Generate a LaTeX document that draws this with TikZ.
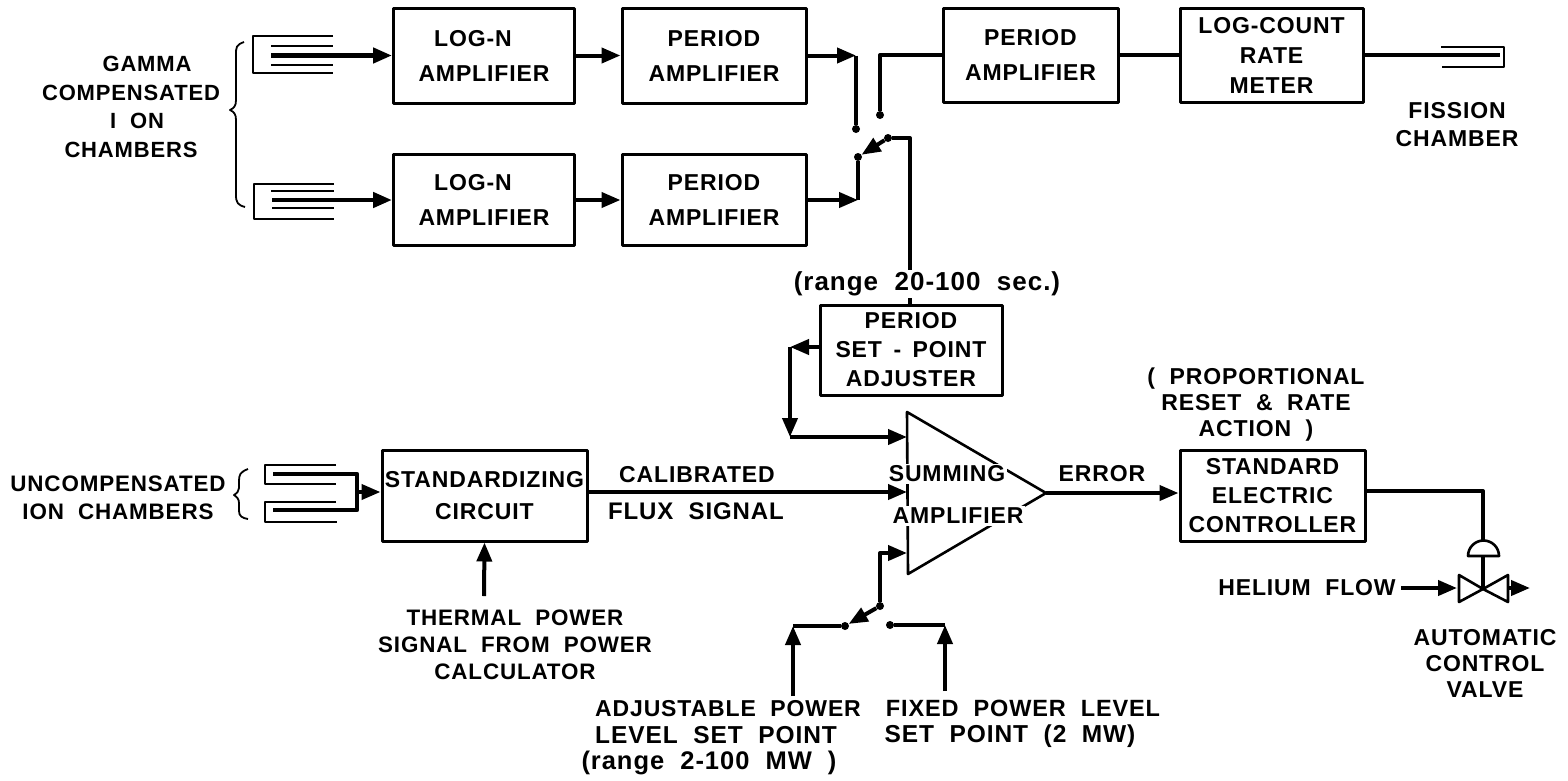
\documentclass[tikz,border=0pt]{standalone}
\usepackage{fontspec}
\setmainfont[LetterSpace=3.8,WordSpace=2]{Liberation Sans}
\usetikzlibrary{arrows.meta,calc}
\newcommand{\leadx}[2]{\fontsize{#1}{#2}\selectfont\bfseries}
\newcommand{\lead}[1]{\leadx{23}{#1}}
\tikzset{
 x=1pt,y=-1pt,
 blockbox/.style={draw,line width=3pt,line join=round,inner sep=0pt,align=center,font=\lead{35}},
 lab/.style={inner sep=0pt,align=center,font=\lead{28}},
 masklab/.style={lab,fill=white,inner sep=2pt},
 wire/.style={line width=4pt,line join=round},
 thin wire/.style={line width=2.6pt,line join=round},
 headtip/.style={-{Triangle[length=19pt,width=15pt]}},
 arrowed/.style={wire,headtip},
 dotc/.style={circle,fill=black,inner sep=0pt,minimum size=8pt},
 tri/.style={draw,line width=2.6pt,line join=round},
 fine/.style={line width=1.8pt,line join=round},
}
\begin{document}
\begin{tikzpicture}
\useasboundingbox (0,0) rectangle (1568,780);
% blocks
\node[blockbox,minimum width=181pt,minimum height=95pt] (logA) at (484,55.5) {LOG-N\hspace*{22pt}\\AMPLIFIER};
\node[blockbox,minimum width=184pt,minimum height=95pt] (perA) at (714,55.5) {PERIOD\\AMPLIFIER};
\node[blockbox,minimum width=181pt,minimum height=91pt] (logB) at (484,200) {LOG-N\hspace*{22pt}\\AMPLIFIER};
\node[blockbox,minimum width=184pt,minimum height=91pt] (perB) at (714,200) {PERIOD\\AMPLIFIER};
\node[blockbox,minimum width=175pt,minimum height=94pt] (perC) at (1030.5,55) {PERIOD\\AMPLIFIER};
\node[blockbox,minimum width=183pt,minimum height=94pt,font=\lead{30}] (rate) at (1271.5,55) {LOG-COUNT\\RATE\\METER};
\node[blockbox,minimum width=182pt,minimum height=90pt,font=\lead{29}] (setp) at (911,350) {PERIOD\\SET\hspace{-3pt} - \hspace{-3pt}POINT\\ADJUSTER};
\node[blockbox,minimum width=205pt,minimum height=91pt,font=\lead{32}] (std) at (484.5,495.5) {STANDARDIZING\\CIRCUIT};
\node[blockbox,minimum width=185pt,minimum height=91pt,font=\lead{29}] (ctrl) at (1272.5,495.5) {STANDARD\\ELECTRIC\\CONTROLLER};
% summing amplifier triangle
\coordinate (triT) at (907,412);
\coordinate (triB) at (908,574);
\coordinate (triO) at (1046,493);
\draw[tri] (triT) -- (triO) -- (triB) -- cycle;
\node[masklab] (summ) at (947,474) {SUMMING};
\node[masklab] (ampl) at (958,516) {AMPLIFIER};
% gamma chambers
\draw[thin wire] (333,36) -- (253,36) -- (253,73) -- (333,73);
\draw[thin wire] (271,46) -- (333,46) (271,65) -- (333,65);
\draw[thin wire] (334,184) -- (254,184) -- (254,219) -- (334,219);
\draw[thin wire] (271,191) -- (334,191) (272,208) -- (334,208);
\coordinate (gamA) at (271,55.5);
\coordinate (gamB) at (272,200);
\draw[arrowed,line width=4.5pt] (gamA) -- (logA.west |- gamA);
\draw[arrowed,line width=4.5pt] (gamB) -- (logB.west |- gamB);
\draw[arrowed] (logA.east) -- (perA.west);
\draw[arrowed] (logB.east) -- (perB.west);
% switch, top
\node[dotc] (c1) at (856,129) {};
\node[dotc] (c2) at (880,115) {};
\node[dotc] (c3) at (858,157) {};
\node[dotc] (c4) at (888,138) {};
\coordinate (c1up) at (856,55.5);
\coordinate (c3dn) at (858,200);
\coordinate (c2up) at (880,55);
\coordinate (c4r) at (910,138);
\draw[arrowed] (perA.east) -- (c1up);
\draw[wire] (c1up) -- (c1);
\draw[arrowed] (perB.east) -- (c3dn);
\draw[wire] (c3dn) -- (c3);
\draw[wire] (c2) -- (c2up) -- (perC.west |- c2up);
\draw[wire] (perC.east) -- (rate.west);
\draw[wire,headtip] (c4) -- (c3);
\draw[wire] (c4) -- (c4r) -- (c4r |- setp.north);
\node[masklab,font=\leadx{26}{28}] (rng) at (927,284) {(range 20-100 sec.)};
% fission chamber
\coordinate (fisE) at (1500,55);
\draw[wire] (rate.east) -- (fisE);
\draw[thin wire,line width=2pt] (1441,47) -- (1504,47) -- (1504,67) -- (1442,67);
% set point feedback
\coordinate (sL) at (820,347);
\coordinate (sC) at (790,347);
\coordinate (sD) at (790,437);
\coordinate (tA) at (907,437);
\coordinate (tB) at (907,492);
\coordinate (tC) at (907,553);
\draw[arrowed] (sL) -- (sC);
\draw[arrowed] (sC) -- (sD);
\draw[arrowed] (sD) -- (tA);
\draw[arrowed] (std.east |- tB) -- (tB);
\draw[arrowed] (triO) -- (ctrl.west |- triO);
% lower switch
\node[dotc] (s1) at (880,606) {};
\node[dotc] (s2) at (845,626) {};
\node[dotc] (s3) at (890,625) {};
\coordinate (sK) at (880,553);
\draw[arrowed] (s1) -- (sK) -- (tC);
\draw[wire,headtip] (s1) -- (s2);
\coordinate (pL) at (793,626);
\coordinate (pR) at (945,625);
\coordinate (pLs) at (793,696);
\coordinate (pRs) at (945,691);
\draw[wire] (s2) -- (pL);
\draw[wire] (s3) -- (pR);
\draw[arrowed] (pLs) -- (pL);
\draw[arrowed] (pRs) -- (pR);
% uncompensated chambers
\draw[thin wire] (336,465) -- (265,465) -- (265,484) -- (336,484);
\draw[thin wire] (336,502) -- (265,502) -- (265,522) -- (337,522);
\coordinate (uA) at (273,474);
\coordinate (uB) at (273,510);
\coordinate (uK) at (357,474);
\coordinate (uL) at (357,510);
\coordinate (uM) at (357,492);
\draw[wire,line width=4.5pt] (uA) -- (uK) -- (uL) -- (uB);
\draw[arrowed] (uM) -- (uM -| std.west);
% thermal
\coordinate (th) at (484,596);
\draw[arrowed] (th) -- (std.south);
% output and valve
\coordinate (cO) at (1483,491);
\coordinate (domeT) at (1483,541);
\coordinate (valve) at (1483,589);
\draw[wire] (ctrl.east |- cO) -- (cO) -- (domeT);
\draw[thin wire] (1468,556) arc[start angle=180,end angle=360,radius=15.5] -- cycle;
\draw[wire,line width=4.5pt] (1483,556) -- (valve);
\draw[tri] (valve) -- (1459,575) -- (1459,602) -- cycle;
\draw[tri] (valve) -- (1508,575) -- (1508,602) -- cycle;
\coordinate (hel) at (1401,588);
\coordinate (vIn) at (1457,588);
\coordinate (vOut) at (1508,588);
\coordinate (vEnd) at (1530,588);
\draw[arrowed] (hel) -- (vIn);
\draw[arrowed] (vOut) -- (vEnd);
% braces
\draw[fine] (244,42) .. controls (236,45) and (236,47) .. (236,55) -- (236,100) .. controls (236,106) and (234,108) .. (230,110) .. controls (234,112) and (236,114) .. (236,120) -- (236,195) .. controls (236,203) and (238,205) .. (245,207);
\draw[fine] (248,469) .. controls (240,472) and (239,475) .. (239,481) -- (239,488) .. controls (239,491) and (237,493) .. (234,495) .. controls (237,497) and (239,499) .. (239,503) -- (239,511) .. controls (239,516) and (242,518) .. (248,519);
% labels
\node[lab,font=\leadx{22}{28.7}] (gamlab) at (131,107) {\hspace*{32pt}GAMMA\\COMPENSATED\\\hspace*{12pt}I ON\\CHAMBERS};
\node[lab] (fislab) at (1457,124.5) {FISSION\\CHAMBER};
\node[lab,font=\leadx{22.4}{28}] (unclab) at (118,498) {UNCOMPENSATED\\ION CHAMBERS};
\node[lab] (callab) at (697,475) {CALIBRATED};
\node[lab,font=\leadx{24}{28}] (fluxlab) at (696,511) {FLUX SIGNAL};
\node[lab] (errlab) at (1102,474) {ERROR};
\node[lab,font=\lead{26}] (proplab) at (1256,405) {( PROPORTIONAL\\RESET \& RATE\\ACTION )};
\node[lab,font=\leadx{22.4}{27}] (thermlab) at (515,645) {THERMAL POWER\\SIGNAL FROM POWER\\CALCULATOR};
\node[lab] (adjlab) at (728,709) {ADJUSTABLE POWER};
\node[lab,font=\leadx{24.5}{28}] (levlab) at (716,735) {LEVEL SET POINT};
\node[lab,font=\leadx{25.5}{28}] (r2lab) at (709,763) {(range 2-100 MW )};
\node[lab,font=\leadx{23.5}{28}] (fixlab) at (1023,708) {FIXED POWER LEVEL};
\node[lab,font=\leadx{24.5}{28}] (set2lab) at (1010,736) {SET POINT (2 MW)};
\node[lab] (hellab) at (1307,588) {HELIUM FLOW};
\node[lab,font=\lead{26}] (autolab) at (1485,663) {AUTOMATIC\\CONTROL\\VALVE};
\end{tikzpicture}
\end{document}
